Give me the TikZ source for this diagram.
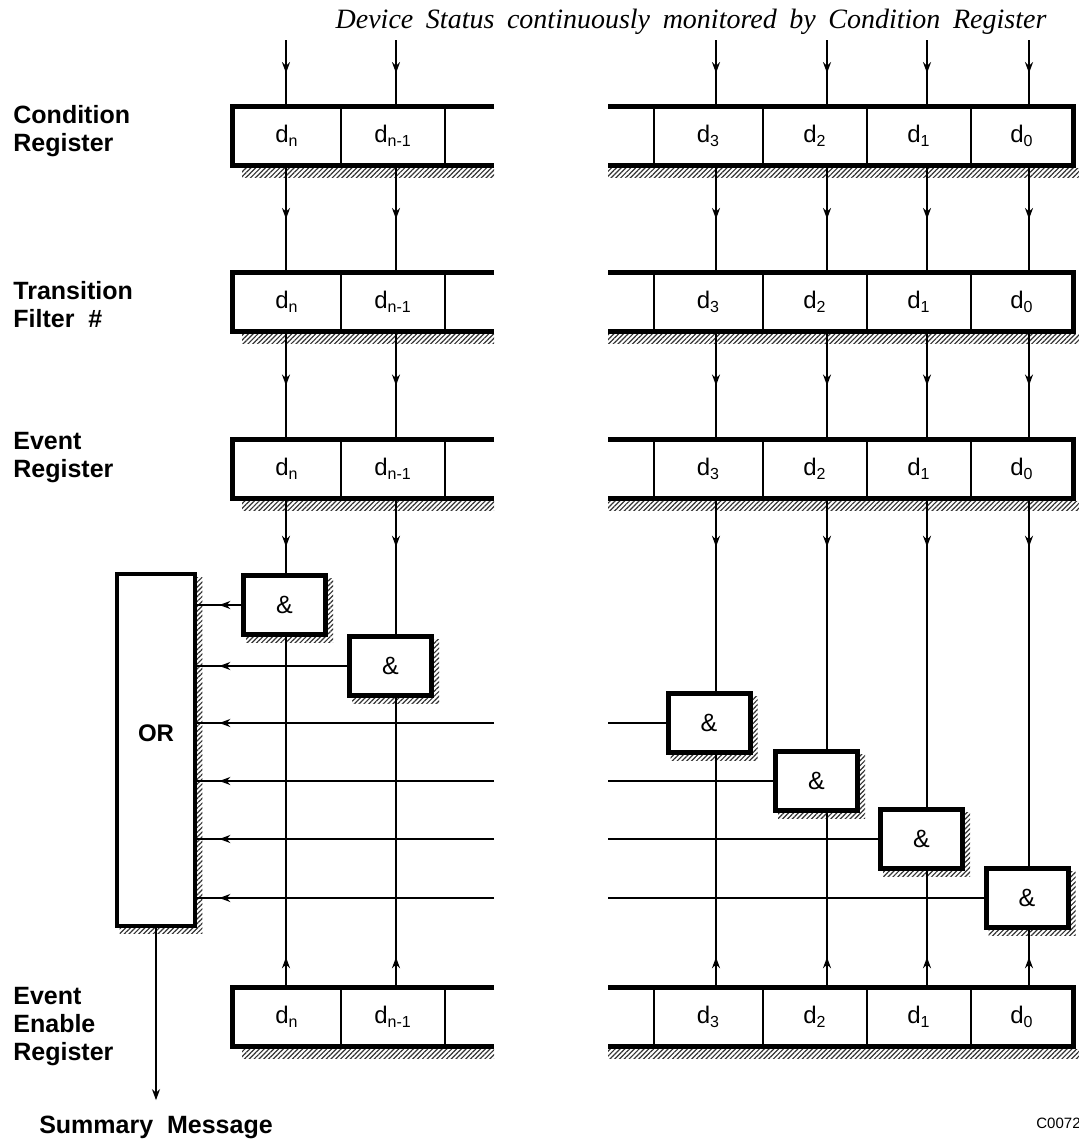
\documentclass[tikz,border=0pt]{standalone}
\usepackage{fontspec}
\setmainfont{Liberation Sans}
\newfontfamily\titlefont[WordSpace=1.8]{Liberation Serif}
\usetikzlibrary{arrows.meta,decorations.markings,patterns.meta,backgrounds}

\tikzset{
  >={Stealth[length=5.5pt,width=4pt]},
  sig/.style={line width=1pt},
  markat/.style={sig,postaction={decorate},
    decoration={markings,mark=at position #1 with {\arrow{>}}}},
  cell/.style={draw,line width=0.8pt,minimum height=29pt,inner sep=0pt,
    font=\fontsize{12}{14}\selectfont},
  frame/.style={line width=2.5pt,line join=miter},
  gate/.style={draw,fill=white,line width=2.5pt,minimum width=41pt,
    minimum height=29.5pt,inner sep=0pt,font=\fontsize{12.5}{14}\selectfont},
  orbox/.style={draw,fill=white,line width=2.3pt,minimum width=39pt,
    minimum height=176pt,inner sep=0pt,text depth=17pt,
    font=\fontsize{12}{14}\selectfont\bfseries},
  hatch/.style={pattern={Lines[angle=45,distance=1.7pt,line width=0.6pt]},
    pattern color=black!80},
  rowlabel/.style={anchor=west,align=left,inner sep=0pt,
    font=\fontsize{12.5}{14}\selectfont\bfseries},
}

\begin{document}
\begin{tikzpicture}[x=0.5pt,y=-0.5pt]
\useasboundingbox (0,0) rectangle (1078,1140);

% columns, break and top of the status lines
\coordinate (c-n) at (286,0);
\coordinate (c-m) at (396,0);
\coordinate (c-3) at (716,0);
\coordinate (c-2) at (827,0);
\coordinate (c-1) at (927,0);
\coordinate (c-0) at (1029,0);
\coordinate (brk-l) at (494,0);
\coordinate (brk-r) at (608,0);
\coordinate (top) at (0,40);

\node[font={\titlefont\fontsize{14}{16}\selectfont\itshape}] (hdr) at (691,22)
  {Device Status continuously monitored by Condition Register};

% registers
\foreach \rg/\y in {cr/136,tf/302,er/469,ee/1017}{
  \node[cell,minimum width=54pt] (\rg-n) at (287,\y) {d\textsubscript{n}};
  \node[cell,minimum width=52pt] (\rg-m) at (393,\y) {d\textsubscript{n-1}};
  \node[cell,minimum width=54.5pt] (\rg-3) at (708.5,\y) {d\textsubscript{3}};
  \node[cell,minimum width=52pt] (\rg-2) at (815,\y) {d\textsubscript{2}};
  \node[cell,minimum width=52pt] (\rg-1) at (919,\y) {d\textsubscript{1}};
  \node[cell,minimum width=51pt] (\rg-0) at (1022,\y) {d\textsubscript{0}};
  \draw[frame] (\rg-n.north west -| brk-l) -- (\rg-n.north west)
    -- (\rg-n.south west) -- (\rg-n.south west -| brk-l);
  \draw[frame] (\rg-3.north west -| brk-r) -- (\rg-0.north east)
    -- (\rg-0.south east) -- (\rg-3.south west -| brk-r);
  \begin{scope}[on background layer]
    \fill[hatch] ([xshift=5pt,yshift=-1.2pt]\rg-n.south west)
      rectangle ([yshift=-6pt]\rg-n.south west -| brk-l);
    \fill[hatch] ([yshift=-1.2pt]\rg-3.south west -| brk-r)
      rectangle ([xshift=3pt,yshift=-6pt]\rg-0.south east);
  \end{scope}
}

\node[rowlabel] (lab-cr) at (13,131) {Condition\\Register};
\node[rowlabel] (lab-tf) at (13,305) {Transition\\Filter\ \ \#};
\node[rowlabel] (lab-er) at (13,458) {Event\\Register};
\node[rowlabel] (lab-ee) at (13,1027) {Event\\Enable\\Register};

% gates
\node[gate] (g-n) at (284.5,605) {\&};
\node[gate] (g-m) at (390.5,666) {\&};
\node[gate] (g-3) at (709,723) {\&};
\node[gate] (g-2) at (816.5,781) {\&};
\node[gate] (g-1) at (921.5,839) {\&};
\node[gate] (g-0) at (1027,898) {\&};
\node[orbox] (or) at (156,750) {OR};

\begin{scope}[on background layer]
  \foreach \g in {g-n,g-m,g-3,g-2,g-1,g-0,or}
    \fill[hatch] ([shift={(2.5pt,-2.8pt)}]\g.south west)
      rectangle ([shift={(2.5pt,-2.8pt)}]\g.north east);
\end{scope}

% status lines
\foreach \c in {n,m,3,2,1,0}{
  \draw[markat=0.5] (top -| c-\c) -- (cr-\c.north -| c-\c);
  \draw[markat=0.5] (cr-\c.south -| c-\c) -- (tf-\c.north -| c-\c);
  \draw[markat=0.5] (tf-\c.south -| c-\c) -- (er-\c.north -| c-\c);
  \draw[markat=24pt] (er-\c.south -| c-\c) -- (g-\c.north -| c-\c);
  \draw[markat=15pt] (ee-\c.north -| c-\c) -- (g-\c.south -| c-\c);
}

% gate outputs into OR
\draw[markat=-11pt] (g-n.west) -- (or.east |- g-n.west);
\draw[markat=-11pt] (g-m.west) -- (or.east |- g-m.west);
\foreach \c in {3,2,1,0}{
  \draw[sig] (g-\c.west) -- (g-\c.west -| brk-r);
  \draw[markat=-11pt] (g-\c.west -| brk-l) -- (or.east |- g-\c.west);
}

\node[inner sep=0pt,anchor=base,font=\fontsize{12.5}{14}\selectfont\bfseries]
  (summ) at (156,1133) {Summary\ \ Message};
\draw[sig,->,shorten >=7.5pt] (or.south) -- (or.south |- summ.north);

\node[inner sep=0pt,anchor=base west,font=\fontsize{7.5}{9}\selectfont]
  (fig-id) at (1036,1128) {C0072};
\end{tikzpicture}
\end{document}
